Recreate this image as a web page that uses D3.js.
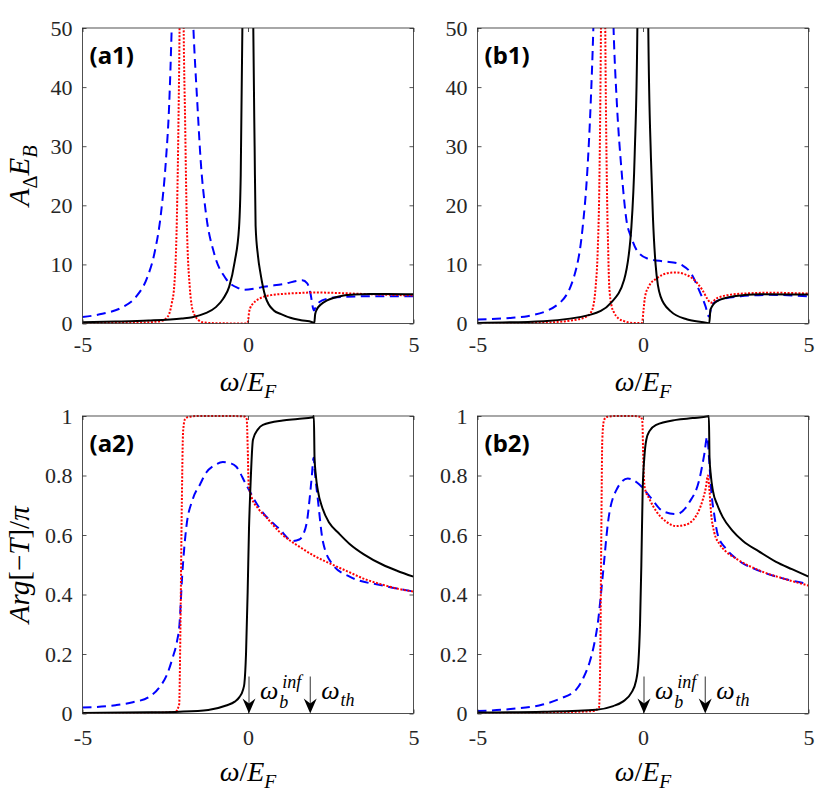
<!DOCTYPE html>
<html>

<head>
    <meta charset="UTF-8">
    <style>
        @font-face { font-family: "PlotSerif"; src: local("Liberation Serif"), local("LiberationSerif"); font-style: normal; font-weight: 400; }
        @font-face { font-family: "PlotSerif"; src: local("Liberation Serif Italic"), local("LiberationSerif-Italic"); font-style: italic; font-weight: 400; }
        body { margin: 0; background: #fff; }
        .serif, .serif tspan { font-family: "Liberation Serif", "PlotSerif", "Times New Roman", serif !important; }
        .tag { font-family: "Noto Sans", sans-serif !important; font-weight: 700; }
    </style>
</head>

<body>
    <script src="https://d3js.org/d3.v7.min.js"></script>
    <script>
        // tick values
        const xTicks = [-5, 0, 5];
        const yTicksTop = [0, 10, 20, 30, 40, 50];
        const yTicksBottom = [0, 0.2, 0.4, 0.6, 0.8, 1];
        // arrow marks (omega_b^inf, omega_th)
        const arrowX = [0, 1.85];

        // (a1) A_Delta E_B
        const a1BlackX = [-5, -4, -3, -2, -1.68, -1.3, -0.97, -0.75, -0.57, -0.4, -0.27, -0.22, -0.17, -0.1, 0, 0.1, 0.16, 0.2, 0.23, 0.3, 0.38, 0.53, 0.78, 1.0, 1.28, 1.6, 1.94, 2.0, 2.03, 2.09, 2.2, 2.39, 2.6, 2.89, 3.2, 3.7, 4.2, 5];
        const a1BlackY = [0.22, 0.33, 0.5, 0.85, 1.07, 1.7, 2.77, 4.2, 6.2, 10.5, 16.3, 25, 50, 120, 300, 120, 50, 30, 16.5, 11.5, 8.4, 4.46, 2.2, 1.6, 0.96, 0.55, 0.22, 0, 1.6, 2.5, 3.2, 3.9, 4.35, 4.75, 4.9, 5.0, 5.0, 4.95];
        const a1RedX = [-5, -4, -3, -2.8, -2.58, -2.45, -2.38, -2.3, -2.23, -2.15, -2.1, -2.06, -2.0, -1.95, -1.9, -1.85, -1.76, -1.7, -1.63, -1.5, -1.37, -1.0, -0.5, -0.05, 0, 0.03, 0.08, 0.14, 0.23, 0.44, 0.7, 1.04, 1.5, 2.0, 2.5, 3.0, 4.0, 5.0];
        const a1RedY = [0.05, 0.1, 0.2, 0.3, 0.5, 1.0, 1.64, 3.5, 6.2, 17.5, 34.4, 55, 120, 55, 34.4, 17.5, 6.2, 3.0, 1.64, 0.6, 0.2, 0.05, 0.02, 0.02, 0.3, 1.8, 2.8, 3.3, 3.8, 4.46, 4.8, 5.0, 5.15, 5.25, 5.2, 5.1, 4.9, 4.75];
        const a1BlueX = [-5, -4.4, -3.79, -3.39, -3.04, -2.83, -2.63, -2.48, -2.38, -2.31, -2.2, -2.0, -1.8, -1.65, -1.53, -1.43, -1.27, -1.02, -0.67, -0.3, -0.13, 0.2, 0.48, 1.08, 1.64, 1.79, 1.89, 1.99, 2.07, 2.24, 2.69, 3.5, 5];
        const a1BlueY = [1.1, 1.64, 2.77, 4.46, 7.85, 11.8, 18.6, 27.6, 37.2, 49.1, 75, 110, 75, 50, 37.2, 27.6, 18.6, 11.8, 7.6, 6.0, 5.7, 5.9, 6.2, 6.7, 7.3, 6.8, 5.0, 2.2, 3.05, 3.9, 4.46, 4.6, 4.6];

        // (b1) A_Delta E_B
        const b1BlackX = [-5, -3, -1.58, -0.97, -0.57, -0.35, -0.25, -0.17, -0.1, 0, 0.1, 0.16, 0.24, 0.3, 0.38, 0.45, 0.53, 0.83, 1.34, 1.94, 2.0, 2.04, 2.24, 2.74, 3.55, 5];
        const b1BlackY = [0.1, 0.4, 1.5, 3.5, 7.4, 16.4, 28.8, 50, 120, 300, 120, 50, 28, 18, 10, 6.5, 4.6, 2.1, 0.68, 0.1, 0, 2.4, 3.8, 4.6, 4.95, 4.9];
        const b1RedX = [-5, -3, -1.98, -1.7, -1.58, -1.5, -1.43, -1.37, -1.32, -1.27, -1.2, -1.14, -1.09, -1.05, -1.02, -0.95, -0.87, -0.75, -0.57, -0.3, -0.03, 0.02, 0.06, 0.18, 0.43, 0.83, 1.0, 1.23, 1.54, 1.79, 1.96, 2.04, 2.24, 2.84, 3.85, 5];
        const b1RedY = [0, 0.15, 0.68, 1.2, 1.8, 3.0, 6.3, 12, 23.2, 50, 120, 50, 23.2, 12, 6.3, 3.0, 1.8, 0.9, 0.4, 0.1, 0.1, 2.5, 4.5, 6.3, 7.7, 8.6, 8.65, 8.4, 7.4, 5.7, 4.05, 3.5, 4.3, 5.0, 5.2, 5.07];
        const b1BlueX = [-5, -4, -3.49, -2.58, -2.08, -1.83, -1.68, -1.58, -1.5, -1.35, -1.2, -1.04, -0.89, -0.79, -0.65, -0.5, -0.35, -0.2, 0.13, 0.64, 1.04, 1.2, 1.44, 1.69, 1.89, 1.99, 2.09, 2.34, 2.95, 3.85, 5];
        const b1BlueY = [0.68, 0.95, 1.24, 3.2, 8.0, 15.9, 26, 37.3, 50, 90, 110, 90, 50, 37.3, 26, 17.5, 14.5, 12.5, 11, 10.5, 10.2, 9.8, 8.6, 5.7, 2.9, 1.2, 3.2, 4.05, 4.6, 4.85, 4.6];

        // (a2) Arg[-T]/pi
        const a2BlackX = [-5, -3, -2.07, -1.2, -0.66, -0.4, -0.26, -0.15, -0.11, -0.06, -0.01, 0.03, 0.07, 0.15, 0.3, 0.45, 1.05, 1.5, 1.96, 1.99, 2.01, 2.05, 2.11, 2.25, 2.46, 2.75, 3.07, 3.5, 4.07, 4.5, 5];
        const a2BlackY = [0.002, 0.004, 0.006, 0.012, 0.027, 0.04, 0.055, 0.08, 0.10, 0.2, 0.41, 0.62, 0.75, 0.92, 0.955, 0.97, 0.985, 0.99, 0.996, 1.0, 0.86, 0.8, 0.75, 0.69, 0.64, 0.605, 0.57, 0.535, 0.5, 0.48, 0.46];
        const a2RedX = [-5, -3, -2.2, -2.08, -2.04, -2.0, -1.96, -1.9, -1.8, -1.5, -1.0, -0.5, -0.1, -0.04, -0.01, 0.02, 0.1, 0.3, 0.55, 1.0, 1.56, 2.0, 2.56, 3.0, 3.57, 4.0, 4.5, 5];
        const a2RedY = [0, 0.002, 0.005, 0.03, 0.3, 0.7, 0.95, 0.99, 0.997, 1, 1, 1, 0.998, 0.99, 0.9, 0.77, 0.73, 0.69, 0.66, 0.605, 0.56, 0.53, 0.50, 0.478, 0.45, 0.435, 0.42, 0.41];
        const a2BlueX = [-5, -4, -3.48, -3, -2.67, -2.45, -2.27, -2.15, -2.07, -1.99, -1.87, -1.67, -1.45, -1.26, -1.0, -0.76, -0.5, -0.36, -0.06, 0.35, 0.95, 1.35, 1.55, 1.66, 1.8, 1.86, 1.93, 1.98, 2.03, 2.11, 2.26, 2.56, 3.07, 4.07, 5];
        const a2BlueY = [0.02, 0.028, 0.038, 0.055, 0.089, 0.13, 0.19, 0.24, 0.30, 0.46, 0.62, 0.72, 0.77, 0.81, 0.835, 0.845, 0.84, 0.83, 0.77, 0.69, 0.62, 0.58, 0.585, 0.60, 0.66, 0.72, 0.8, 0.86, 0.8, 0.72, 0.58, 0.50, 0.46, 0.43, 0.41];

        // (b2) Arg[-T]/pi
        const b2BlackX = [-5, -3, -1.41, -0.9, -0.61, -0.35, -0.21, -0.14, -0.09, -0.05, -0.01, 0.04, 0.1, 0.2, 0.4, 1.0, 1.5, 1.96, 1.99, 2.01, 2.05, 2.11, 2.25, 2.41, 2.7, 3.02, 3.5, 4.02, 4.5, 5];
        const b2BlackY = [0.003, 0.006, 0.013, 0.025, 0.04, 0.07, 0.11, 0.17, 0.30, 0.5, 0.75, 0.86, 0.92, 0.95, 0.97, 0.987, 0.993, 0.999, 1.0, 0.86, 0.8, 0.75, 0.7, 0.66, 0.615, 0.58, 0.545, 0.51, 0.485, 0.46];
        const b2RedX = [-5, -3, -1.5, -1.33, -1.29, -1.26, -1.23, -1.18, -1.1, -0.8, -0.3, -0.06, -0.02, 0.01, 0.05, 0.2, 0.4, 0.7, 1.0, 1.3, 1.51, 1.7, 1.81, 1.9, 1.96, 2.0, 2.06, 2.15, 2.31, 2.5, 2.82, 3.53, 4.2, 5];
        const b2RedY = [0, 0.003, 0.008, 0.02, 0.2, 0.6, 0.92, 0.985, 0.997, 1, 1, 0.997, 0.98, 0.85, 0.76, 0.72, 0.68, 0.645, 0.63, 0.635, 0.65, 0.685, 0.72, 0.76, 0.80, 0.76, 0.67, 0.61, 0.57, 0.545, 0.52, 0.48, 0.455, 0.43];
        const b2BlueX = [-5, -4, -3.03, -2.5, -2.02, -1.8, -1.62, -1.48, -1.37, -1.21, -1.06, -0.81, -0.46, -0.11, 0.2, 0.6, 1.0, 1.4, 1.71, 1.85, 1.94, 2.0, 2.06, 2.15, 2.26, 2.5, 2.82, 3.5, 4.2, 5];
        const b2BlueY = [0.008, 0.015, 0.03, 0.05, 0.08, 0.12, 0.17, 0.23, 0.30, 0.47, 0.64, 0.75, 0.79, 0.77, 0.73, 0.68, 0.67, 0.71, 0.79, 0.87, 0.93, 0.85, 0.75, 0.67, 0.60, 0.555, 0.52, 0.48, 0.455, 0.435];

        const W = 830, H = 796;
        const axisColor = "#262626";

        const styles = {
            blue: { stroke: "#0000ff", dash: "9,5.5" },
            red: { stroke: "#ff0000", dash: "2,1.6" },
            black: { stroke: "#000000", dash: null }
        };

        const zip = (xs, ys) => xs.map((v, i) => [v, ys[i]]);

        const panels = [
            { name: "(a1)", left: 82.5, right: 413.5, top: 28, bottom: 323.5, yDomain: [0, 50], yTicks: yTicksTop, pad: 0, arrows: false,
              series: [["blue", zip(a1BlueX, a1BlueY)], ["red", zip(a1RedX, a1RedY)], ["black", zip(a1BlackX, a1BlackY)]] },
            { name: "(b1)", left: 477.5, right: 808.5, top: 28, bottom: 323.5, yDomain: [0, 50], yTicks: yTicksTop, pad: 0, arrows: false,
              series: [["blue", zip(b1BlueX, b1BlueY)], ["red", zip(b1RedX, b1RedY)], ["black", zip(b1BlackX, b1BlackY)]] },
            { name: "(a2)", left: 82.5, right: 413.5, top: 416, bottom: 713.5, yDomain: [0, 1], yTicks: yTicksBottom, pad: 2, arrows: true,
              series: [["blue", zip(a2BlueX, a2BlueY)], ["red", zip(a2RedX, a2RedY)], ["black", zip(a2BlackX, a2BlackY)]] },
            { name: "(b2)", left: 477.5, right: 808.5, top: 416, bottom: 713.5, yDomain: [0, 1], yTicks: yTicksBottom, pad: 2, arrows: true,
              series: [["blue", zip(b2BlueX, b2BlueY)], ["red", zip(b2RedX, b2RedY)], ["black", zip(b2BlackX, b2BlackY)]] }
        ];

        const svg = d3.select("body")
            .append("svg")
            .attr("width", W)
            .attr("height", H);

        // math-like text with sub/superscripts via dy shifts
        function mathText(sel, parts, size) {
            let shift = 0;
            parts.forEach(p => {
                const target = p.sub ? size * 0.28 : p.sup ? -size * 0.42 : 0;
                sel.append("tspan")
                    .attr("dy", target - shift)
                    .attr("font-size", (p.sub || p.sup) ? size * 0.7 : size)
                    .attr("font-style", p.it ? "italic" : "normal")
                    .text(p.t);
                shift = target;
            });
        }

        panels.forEach((p, k) => {
            const x = d3.scaleLinear().domain([-5, 5]).range([p.left, p.right]);
            const y = d3.scaleLinear().domain(p.yDomain).range([p.bottom, p.top]);
            const g = svg.append("g");

            const clipId = "clip" + k;
            svg.append("clipPath").attr("id", clipId)
                .append("rect")
                .attr("x", p.left).attr("y", p.top - p.pad)
                .attr("width", p.right - p.left).attr("height", p.bottom - p.top + p.pad);

            // curves
            const line = d3.line()
                .x(d => x(d[0]))
                .y(d => y(d[1]))
                .curve(d3.curveMonotoneX);

            const curves = g.append("g").attr("clip-path", `url(#${clipId})`);
            p.series.forEach(([key, pts]) => {
                curves.append("path")
                    .datum(pts)
                    .attr("fill", "none")
                    .attr("stroke", styles[key].stroke)
                    .attr("stroke-width", 2)
                    .attr("stroke-dasharray", styles[key].dash)
                    .attr("stroke-linejoin", "round")
                    .attr("d", line);
            });

            // axes with inward ticks on all four sides
            const styleAxis = a => {
                a.attr("font-family", null).attr("font-size", null);
                a.select(".domain").remove();
                a.selectAll("line").attr("stroke", axisColor).attr("stroke-width", 0.8);
                a.selectAll("text")
                    .attr("class", "serif")
                    .attr("font-size", 22)
                    .attr("fill", axisColor);
            };

            g.append("g")
                .attr("transform", `translate(0,${p.bottom})`)
                .call(d3.axisBottom(x).tickValues(xTicks).tickSize(-4).tickFormat(d => String(d)))
                .call(styleAxis)
                .call(a => a.selectAll("text").attr("dy", null).attr("y", p.arrows ? 31.5 : 28.5));

            g.append("g")
                .attr("transform", `translate(0,${p.top})`)
                .call(d3.axisTop(x).tickValues(xTicks).tickSize(-4).tickFormat(""))
                .call(styleAxis);

            g.append("g")
                .attr("transform", `translate(${p.left},0)`)
                .call(d3.axisLeft(y).tickValues(p.yTicks).tickSize(-4).tickPadding(10).tickFormat(d => String(d)))
                .call(styleAxis)
                .call(a => a.selectAll("text").attr("dy", "0.33em"));

            g.append("g")
                .attr("transform", `translate(${p.right},0)`)
                .call(d3.axisRight(y).tickValues(p.yTicks).tickSize(-4).tickFormat(""))
                .call(styleAxis);

            g.append("rect")
                .attr("x", p.left).attr("y", p.top)
                .attr("width", p.right - p.left).attr("height", p.bottom - p.top)
                .attr("fill", "none")
                .attr("stroke", axisColor)
                .attr("stroke-width", 0.8);

            // panel tag
            g.append("text")
                .attr("class", "tag")
                .attr("x", p.left + 7)
                .attr("y", p.top + 36)
                .attr("font-size", 24)
                .attr("fill", "#000")
                .text(p.name);

            // x label
            const xl = g.append("text").attr("class", "serif").attr("fill", "#000")
                .attr("x", (p.left + p.right) / 2)
                .attr("y", p.bottom + 67)
                .attr("text-anchor", "middle");
            mathText(xl, [{ t: "ω", it: true }, { t: "/" }, { t: "E", it: true }, { t: "F", it: true, sub: true }], 28);

            // y label (left column only)
            if (p.left < 200) {
                const yl = g.append("text").attr("class", "serif").attr("fill", "#000")
                    .attr("transform", `translate(29,${(p.top + p.bottom) / 2}) rotate(-90)`)
                    .attr("text-anchor", "middle");
                if (!p.arrows) {
                    mathText(yl, [{ t: "A", it: true }, { t: "Δ", sub: true }, { t: "E", it: true }, { t: "B", it: true, sub: true }], 29);
                } else {
                    mathText(yl, [{ t: "Arg", it: true }, { t: "[−" }, { t: "T", it: true }, { t: "]/" }, { t: "π", it: true }], 29);
                }
            }

            // arrows marking omega_b^inf and omega_th
            if (p.arrows) {
                arrowX.forEach((ax, j) => {
                    const px = x(ax) + 1;
                    const tip = p.bottom;
                    g.append("line")
                        .attr("x1", px).attr("x2", px)
                        .attr("y1", tip - 37).attr("y2", tip - 8)
                        .attr("stroke", "#333").attr("stroke-width", 1);
                    g.append("path")
                        .attr("d", `M${px},${tip} L${px - 6.5},${tip - 15} L${px},${tip - 10} L${px + 6.5},${tip - 15} Z`)
                        .attr("fill", "#000");

                    const ann = g.append("text").attr("class", "serif").attr("fill", "#000")
                        .attr("x", px + 11)
                        .attr("y", tip - 15)
                        .attr("font-style", "italic")
                        .attr("font-size", 26);
                    ann.append("tspan").text("ω");
                    if (j === 0) {
                        ann.append("tspan").attr("font-size", 18).attr("dx", 1).attr("dy", 9).text("b");
                        ann.append("tspan").attr("font-size", 18).attr("dx", -6).attr("dy", -20).text("inf");
                    } else {
                        ann.append("tspan").attr("font-size", 18).attr("dx", 1).attr("dy", 7).text("th");
                    }
                });
            }
        });
    </script>
</body>

</html>
